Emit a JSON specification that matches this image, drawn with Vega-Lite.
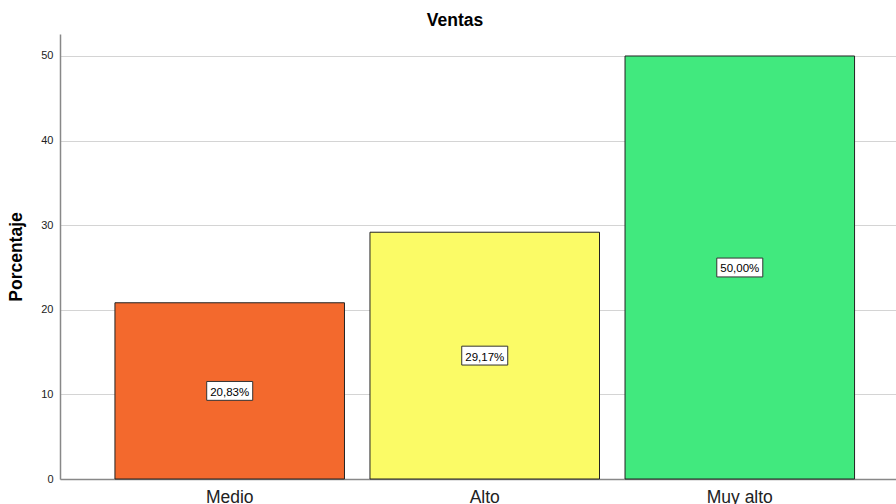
{
  "$schema": "https://vega.github.io/schema/vega-lite/v6.json",
  "width": 836,
  "height": 445,
  "autosize": {"type": "none"},
  "padding": {"left": 60, "top": 34, "right": 0, "bottom": 25},
  "background": "white",
  "title": {"text": "Ventas", "font": "Liberation Sans", "fontSize": 17.5, "fontWeight": "bold", "color": "#000000", "anchor": "middle", "dx": -23, "offset": 5},
  "config": {"view": {"stroke": null}, "font": "Liberation Sans"},
  "data": {"values": [
    {"nivel": "Medio", "pct": 20.83, "label": "20,83%", "orden": 1},
    {"nivel": "Alto", "pct": 29.17, "label": "29,17%", "orden": 2},
    {"nivel": "Muy alto", "pct": 50.00, "label": "50,00%", "orden": 3}
  ]},
  "encoding": {
    "x": {"field": "nivel", "type": "nominal", "sort": ["Medio", "Alto", "Muy alto"],
      "scale": {"paddingInner": 0.1, "paddingOuter": 0.189, "align": 0.57},
      "axis": {"title": null, "labelAngle": 0, "labelFontSize": 17.5, "labelColor": "#222222", "labelPadding": 9, "ticks": false, "domainColor": "#888888", "domainWidth": 1.5, "grid": false}},
    "y": {"field": "pct", "type": "quantitative",
      "scale": {"domain": [0, 52.6], "nice": false},
      "axis": {"title": "Porcentaje", "titleFontSize": 17.5, "titleFontWeight": "bold", "titleColor": "#000000", "titlePadding": 15,
        "values": [0, 10, 20, 30, 40, 50], "labelFontSize": 11, "labelColor": "#222222", "labelPadding": 7, "ticks": false,
        "domainColor": "#888888", "domainWidth": 1.5, "grid": true, "gridColor": "#d4d4d4", "gridWidth": 1.2}}
  },
  "layer": [
    {
      "mark": {"type": "bar", "stroke": "#222222", "strokeWidth": 1},
      "encoding": {
        "color": {"field": "nivel", "type": "nominal", "legend": null,
          "scale": {"domain": ["Medio", "Alto", "Muy alto"], "range": ["#F3692D", "#FBFB66", "#41E97E"]}}
      }
    },
    {
      "transform": [{"calculate": "datum.pct / 2", "as": "mid"}],
      "mark": {"type": "point", "shape": "M-1,-0.41L1,-0.41L1,0.41L-1,0.41Z", "size": 2116, "filled": true, "fill": "white", "stroke": "#333333", "strokeWidth": 1, "opacity": 1, "dy": 1},
      "encoding": {"y": {"field": "mid", "type": "quantitative"}}
    },
    {
      "transform": [{"calculate": "datum.pct / 2", "as": "mid"}],
      "mark": {"type": "text", "fontSize": 11.5, "color": "#000000", "baseline": "middle", "align": "center", "dy": 2},
      "encoding": {"y": {"field": "mid", "type": "quantitative"}, "text": {"field": "label"}}
    }
  ]
}
